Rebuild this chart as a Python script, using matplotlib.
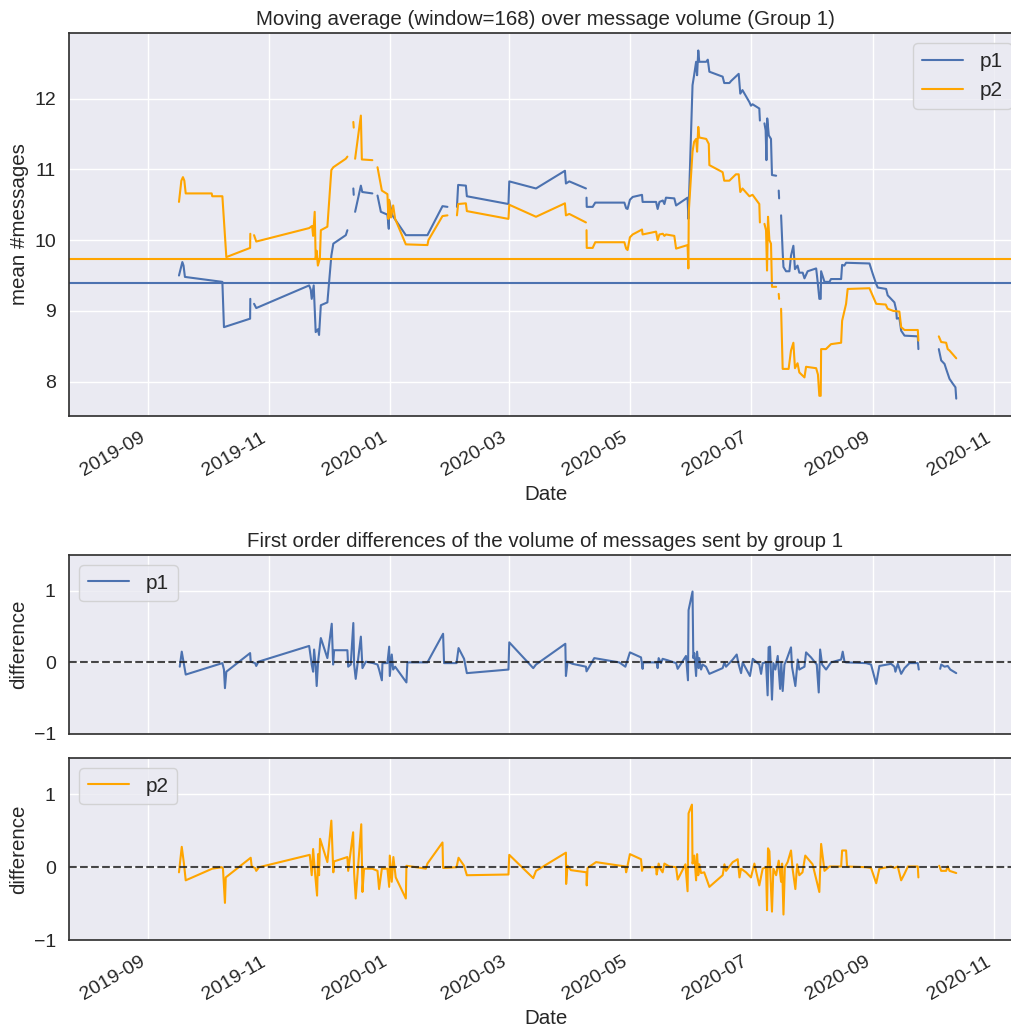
import numpy as np
import pandas as pd
import matplotlib
matplotlib.use("Agg")
import matplotlib.pyplot as plt
import matplotlib.dates as mdates
import seaborn as sns

nan = np.nan
START = pd.Timestamp("2019-09-01")

# moving average (window=168), days since 2019-09-01 / mean #messages
p1_days = [15.5, 17.2, 17.8, 18.5, 32.0, 37.4, 38.2, 51.4, 51.5, 52.5, 53.4, 54.5,
           81.2, 82.0, 82.5, 83.5, 84.5, 85.6, 86.2, 87.1, 90.4, 92.4, 93.4, 99.7,
           100.5, 102.0, 103.5, 103.7, 104.0, 104.4, 107.3, 108.0, 113.1, 114.5,
           115.7, 117.4, 120.7, 121.4, 121.6, 123.2, 130.0, 140.9, 148.5, 151.0,
           153.0, 155.8, 156.4, 160.3, 160.8, 181.8, 182.2, 195.7, 210.3, 210.8,
           212.5, 220.9, 221.0, 221.2, 221.3, 224.3, 225.6, 240.3, 241.2, 241.9,
           243.1, 244.5, 249.2, 249.5, 256.3, 257.1, 258.0, 259.7, 260.5, 261.3,
           265.5, 266.4, 272.2, 272.6, 274.7, 275.5, 276.5, 277.0, 277.6, 278.1,
           281.6, 282.4, 283.2, 289.9, 290.7, 293.3, 294.2, 298.0, 298.8, 299.9,
           303.4, 304.2, 305.0, 308.4, 308.7, 309.8, 311.0, 311.6, 312.0, 312.4,
           313.2, 314.3, 314.8, 316.9, 317.6, 318.2, 318.4, 318.9, 319.4, 320.2,
           320.6, 321.9, 323.6, 324.4, 325.6, 326.4, 327.7, 328.6, 330.3, 331.2,
           332.8, 337.1, 337.9, 338.7, 339.4, 339.6, 341.3, 343.8, 344.6, 349.7,
           350.2, 351.3, 352.2, 364.0, 365.7, 367.4, 368.2, 372.4, 373.2, 374.9,
           376.6, 377.5, 377.8, 379.1, 380.0, 381.7, 388.4, 388.7, 394.0, 399.0,
           400.2, 401.9, 402.7, 404.4, 406.1, 407.4, 407.8]
p1_ma = [9.50, 9.69, 9.64, 9.48, 9.43, 9.41, 8.77, 8.89, 9.17, nan, 9.10, 9.04,
         9.36, 9.30, 9.17, 9.36, 8.70, 8.74, 8.66, 9.08, 9.12, 9.78, 9.95, 10.07,
         10.14, nan, 10.73, 10.64, nan, 10.40, 10.77, 10.68, 10.66, nan,
         10.63, 10.40, 10.36, 10.16, 10.56, 10.35, 10.07, 10.07, 10.48, 10.47,
         nan, 10.47, 10.78, 10.77, 10.62, 10.51, 10.83, 10.73, 10.98, 10.80,
         10.83, 10.73, nan, 10.60, 10.47, 10.47, 10.53, 10.53, 10.45, 10.44,
         10.57, 10.61, 10.64, 10.54, 10.54, 10.44, 10.54, 10.56, 10.51, 10.60,
         10.59, 10.49, 10.60, 10.30, 12.19, 12.33, 12.52, 12.33, 12.68, 12.52,
         12.52, 12.55, 12.38, 12.31, 12.22, 12.22, 12.25, 12.35, 12.07, 12.12,
         11.95, 11.90, 11.92, 11.86, 11.69, nan, 11.65, 11.55, 11.13, 11.72,
         11.48, 11.43, 10.92, 10.91, nan, 10.70, 10.59, nan, 10.35, 9.83,
         9.62, 9.56, 9.56, 9.78, 9.92, 9.59, 9.64, 9.54, 9.54, 9.46,
         9.56, 9.60, 9.40, 9.17, 9.17, 9.56, 9.41, 9.41, 9.45, 9.45,
         9.65, 9.64, 9.68, 9.67, 9.52, 9.38, 9.33, 9.31, 9.22, 9.17,
         9.12, 9.01, 8.89, 8.90, 8.72, 8.65, 8.64, 8.46, nan, 8.46,
         8.30, 8.25, 8.18, 8.04, 7.97, 7.92, 7.76]

p2_days = [15.5, 16.7, 17.5, 18.2, 18.9, 32.0, 32.3, 37.4, 39.4, 51.4, 51.5, 52.5,
           53.4, 54.5, 81.2, 82.7, 83.2, 84.0, 84.5, 85.0, 85.6, 86.6, 87.1, 90.4,
           92.4, 93.4, 99.7, 100.5, 102.0, 103.5, 103.7, 104.0, 104.4, 107.3, 107.8,
           113.1, 114.5, 115.7, 117.9, 120.7, 121.2, 121.6, 122.5, 123.6, 124.6,
           130.0, 140.9, 141.4, 148.5, 151.0, 153.0, 155.8, 156.4, 160.3, 160.8,
           181.8, 182.2, 195.7, 210.3, 210.8, 212.5, 220.9, 221.0, 221.2, 221.3,
           224.3, 225.6, 240.3, 241.2, 241.9, 243.1, 244.5, 249.2, 249.5, 256.3,
           257.1, 258.0, 259.7, 260.5, 261.3, 265.5, 266.4, 272.2, 272.6, 272.8,
           274.7, 275.5, 276.5, 277.0, 277.6, 278.1, 281.6, 282.9, 283.2, 289.9,
           290.7, 293.3, 296.6, 298.0, 298.8, 299.9, 303.4, 305.0, 308.4, 308.7,
           309.8, 311.0, 311.8, 312.3, 312.8, 313.5, 314.3, 314.8, 316.9, 317.6,
           318.2, 318.4, 318.9, 319.4, 320.2, 323.2, 324.4, 325.6, 326.4, 327.7,
           328.6, 331.2, 332.0, 337.1, 338.0, 338.7, 339.4, 339.6, 342.0, 344.6,
           349.7, 350.2, 352.2, 353.0, 364.0, 367.4, 372.2, 373.2, 376.0, 379.1,
           380.0, 381.7, 388.4, 388.7, 394.0, 399.0, 400.2, 402.7, 403.5, 404.4,
           407.8]
p2_ma = [10.54, 10.84, 10.89, 10.84, 10.66, 10.66, 10.62, 10.62, 9.76, 9.89, 10.09, nan,
         10.07, 9.98, 10.17, 10.20, 10.06, 10.40, 9.74, 9.85, 9.64, 9.74, 10.14, 10.19,
         10.99, 11.03, 11.15, 11.18, nan, 11.67, 11.59, nan, 11.15, 11.76, 11.14,
         11.13, nan, 11.03, 10.70, 10.65, 10.30, 10.57, 10.32, 10.49, 10.30,
         9.94, 9.93, 10.00, 10.34, 10.35, nan, 10.35, 10.51, 10.52, 10.41,
         10.30, 10.50, 10.33, 10.52, 10.35, 10.37, 10.25, nan, 10.14, 9.89,
         9.89, 9.97, 9.97, 9.88, 9.86, 10.04, 10.08, 10.15, 10.08, 10.12,
         10.00, 10.08, 10.09, 10.06, 10.08, 10.06, 9.88, 9.93, 9.60, 10.40,
         11.25, 11.39, 11.43, 11.25, 11.60, 11.45, 11.43, 11.36, 11.06, 10.96,
         10.84, 10.84, 10.93, 10.93, 10.68, 10.73, 10.62, 10.64, 10.51, 10.25,
         nan, 10.23, 10.14, 9.57, 10.33, 10.00, 9.95, 9.34, 9.34, nan,
         9.24, 9.17, nan, 9.03, 8.18, 8.18, 8.44, 8.55, 8.19, 8.26,
         8.13, 8.06, 8.21, 8.19, 8.10, 7.80, 7.80, 8.46, 8.46, 8.53,
         8.55, 8.86, 9.10, 9.31, 9.32, 9.10, 9.09, 9.03, 9.00, 8.99,
         8.77, 8.73, 8.73, 8.58, nan, 8.64, 8.56, 8.55, 8.46, 8.44,
         8.33]

p1_mean = 9.40
p2_mean = 9.73

# first order differences
d1_days = [15.9, 16.9, 18.0, 18.9, 37.4, 38.2, 38.7, 39.4, 51.4, 51.7, 53.9, 54.5,
           55.6, 81.2, 82.5, 83.2, 83.7, 84.5, 85.0, 85.7, 87.1, 90.4, 92.6, 93.3,
           93.8, 100.5, 100.9, 102.2, 103.5, 103.9, 104.7, 107.3, 108.1, 109.8,
           113.5, 115.7, 116.5, 117.9, 118.2, 120.7, 121.6, 121.9, 122.9, 123.6,
           124.6, 130.3, 130.8, 140.9, 148.8, 149.3, 155.6, 156.6, 159.4, 160.8,
           181.8, 182.2, 194.3, 195.7, 210.5, 210.8, 211.6, 214.1, 220.9, 221.2,
           222.6, 225.1, 237.7, 240.8, 243.1, 248.7, 249.5, 249.8, 256.6, 257.1,
           257.6, 258.8, 259.6, 262.1, 266.4, 267.2, 271.4, 272.4, 272.7, 274.7,
           275.1, 275.6, 276.5, 277.0, 277.8, 278.1, 279.0, 279.8, 281.5, 283.2,
           289.9, 290.8, 291.6, 295.0, 297.0, 298.0, 299.2, 300.0, 303.7, 305.1,
           307.6, 308.4, 309.3, 310.1, 311.8, 312.6, 313.1, 313.8, 314.8, 315.5,
           316.5, 317.7, 318.9, 319.5, 320.2, 321.1, 322.2, 324.4, 324.9, 326.6,
           327.8, 328.6, 331.2, 332.0, 334.5, 337.4, 338.4, 339.1, 340.1, 342.1,
           344.6, 349.7, 350.5, 351.4, 352.2, 362.3, 364.8, 367.4, 369.0, 374.9,
           376.6, 377.1, 378.3, 380.0, 381.7, 384.2, 388.4, 388.9, 394.0, 399.7,
           400.2, 401.9, 403.5, 404.8, 407.8]
d1_vals = [-0.06, 0.15, -0.03, -0.17, -0.01, -0.10, -0.36, -0.13, 0.13, 0.01, -0.01, -0.05,
           0.01, 0.23, -0.03, -0.13, 0.18, -0.06, -0.33, 0.01, 0.34, 0.06, 0.54, -0.03,
           0.17, 0.17, -0.06, -0.03, 0.55, -0.03, -0.23, 0.36, -0.08, 0.01,
           -0.01, -0.03, -0.10, -0.25, -0.01, -0.01, 0.22, -0.19, 0.11, -0.10,
           -0.06, -0.28, 0.00, 0.00, 0.40, -0.01, -0.01, 0.20, 0.05, -0.15,
           -0.10, 0.28, -0.08, -0.03, 0.26, -0.19, 0.01, -0.02, -0.06, -0.125,
           -0.06, 0.06, 0.00, -0.06, 0.14, 0.07, -0.09, 0.00, 0.00, -0.08,
           0.06, -0.01, 0.05, 0.03, -0.01, -0.09, 0.09, -0.25, 0.73, 0.99,
           0.06, 0.13, -0.19, 0.15, -0.08, 0.06, -0.10, -0.03, -0.06, -0.16,
           -0.08, 0.00, -0.06, 0.04, 0.11, -0.03, -0.15, 0.00, -0.19, 0.05,
           -0.01, -0.03, -0.16, -0.01, 0.00, -0.46, 0.21, 0.22, -0.52, -0.01,
           -0.10, 0.09, -0.37, 0.00, -0.40, -0.03, 0.04, 0.21, -0.06, -0.33,
           0.04, -0.10, -0.06, 0.14, 0.07, -0.03, -0.42, 0.18, -0.03, -0.10,
           0.00, 0.04, 0.15, 0.01, 0.00, -0.01, -0.03, -0.30, -0.05, -0.02,
           -0.06, -0.13, -0.02, -0.16, -0.08, -0.01, -0.01, -0.10, nan, -0.09,
           -0.03, -0.06, -0.05, -0.10, -0.15]

d2_days = [15.5, 16.9, 18.0, 18.9, 32.3, 37.1, 37.7, 38.7, 39.1, 51.7, 52.2, 53.9,
           54.5, 55.9, 81.5, 82.5, 83.2, 84.2, 85.2, 85.7, 86.2, 86.7, 90.4, 92.4,
           93.4, 93.8, 100.5, 100.9, 103.4, 103.9, 104.7, 107.5, 108.1, 108.9,
           113.1, 115.7, 116.5, 117.9, 120.7, 121.6, 121.9, 122.9, 123.7, 124.9,
           130.0, 130.3, 140.1, 140.9, 148.5, 148.8, 155.6, 156.6, 159.4, 160.8,
           181.8, 182.2, 194.3, 195.7, 210.8, 210.9, 211.6, 213.3, 221.2, 221.3,
           221.7, 226.0, 240.8, 241.2, 243.1, 248.7, 249.2, 249.8, 256.3, 256.6,
           257.6, 258.4, 259.6, 260.5, 263.0, 266.4, 267.2, 271.1, 272.2, 272.7,
           274.4, 274.7, 275.6, 276.5, 277.0, 277.6, 278.1, 279.0, 280.6, 283.2,
           289.9, 290.8, 291.6, 295.0, 297.5, 298.4, 299.2, 301.7, 304.2, 305.9,
           308.4, 310.1, 311.8, 312.3, 312.8, 313.5, 314.8, 315.5, 316.9, 318.2,
           319.4, 319.9, 320.6, 321.3, 322.7, 324.4, 325.2, 326.6, 327.5, 328.6,
           330.2, 331.6, 335.3, 338.7, 339.6, 341.3, 343.8, 349.7, 350.2, 352.2,
           352.7, 362.3, 364.8, 367.4, 369.0, 374.9, 376.6, 378.3, 380.0, 381.7,
           383.4, 388.4, 388.7, 394.0, 399.2, 400.2, 402.7, 403.5, 404.4, 407.8]
d2_vals = [-0.07, 0.28, 0.05, -0.18, -0.02, 0.00, -0.02, -0.49, -0.14, 0.13, 0.01, -0.01,
           -0.05, 0.00, 0.17, -0.11, 0.25, -0.09, -0.39, 0.18, -0.11, 0.39, 0.07, 0.64,
           -0.07, 0.08, 0.14, -0.05, 0.48, -0.08, -0.43, 0.59, -0.34, -0.02,
           -0.02, -0.05, -0.30, -0.02, -0.02, -0.27, 0.16, -0.20, 0.14, -0.14,
           -0.43, 0.02, -0.02, 0.05, 0.34, -0.01, 0.00, 0.13, 0.02, -0.11,
           -0.10, 0.17, -0.15, -0.05, 0.20, -0.23, 0.02, -0.04, -0.07, -0.25,
           -0.01, 0.07, 0.01, -0.07, 0.18, 0.11, -0.05, 0.00, 0.00, -0.10,
           0.05, -0.02, -0.07, 0.05, 0.01, 0.00, -0.17, 0.04, -0.33, 0.74,
           0.86, 0.05, 0.16, -0.18, 0.18, -0.11, 0.04, -0.08, -0.07, -0.27,
           -0.11, 0.04, -0.05, 0.07, 0.11, -0.14, -0.02, -0.07, -0.14, 0.05,
           -0.25, -0.02, 0.00, -0.59, 0.26, 0.22, -0.61, -0.02, -0.11, 0.09,
           -0.20, 0.05, -0.65, 0.00, 0.07, 0.23, -0.02, -0.30, 0.04, -0.11,
           -0.07, 0.16, 0.04, -0.34, 0.32, -0.05, 0.01, 0.01, 0.23, 0.23,
           0.01, 0.00, -0.01, -0.22, -0.02, 0.01, -0.01, 0.01, -0.18, -0.09,
           0.01, 0.01, -0.14, nan, 0.02, -0.05, -0.05, 0.01, -0.05, -0.08]


def to_dates(days):
    return START + pd.to_timedelta(np.array(days), unit="D")


sns.set_theme(style="darkgrid")
plt.rcParams["font.family"] = ["Liberation Sans", "DejaVu Sans"]
plt.rcParams["axes.edgecolor"] = "0.2"
plt.rcParams["axes.linewidth"] = 1.25

BLUE = "#4c72b0"
ORANGE = "orange"
xlim = (pd.Timestamp("2019-07-23"), pd.Timestamp("2020-11-15"))

fig = plt.figure(figsize=(10.12, 10.27), dpi=100)
ax1 = fig.add_axes([0.0682, 0.5949, 0.9417, 0.3729])
ax2 = fig.add_axes([0.0682, 0.2853, 0.9417, 0.1743])
ax3 = fig.add_axes([0.0682, 0.0847, 0.9417, 0.1772], sharex=ax2)

ax1.plot(to_dates(p1_days), p1_ma, color=BLUE, lw=1.5, label="p1")
ax1.plot(to_dates(p2_days), p2_ma, color=ORANGE, lw=1.5, label="p2")
ax1.axhline(p1_mean, color=BLUE, lw=1.5)
ax1.axhline(p2_mean, color=ORANGE, lw=1.5)
ax1.set_title("Moving average (window=168) over message volume (Group 1)", fontsize=14.8)
ax1.set_ylabel("mean #messages", fontsize=14.8)
ax1.set_xlabel("Date", fontsize=14.8)
ax1.legend(loc="upper right", fontsize=15)

ax2.plot(to_dates(d1_days), d1_vals, color=BLUE, lw=1.5, label="p1")
ax2.axhline(0, color="k", ls="--", lw=1.5, alpha=0.8)
ax2.set_title("First order differences of the volume of messages sent by group 1", fontsize=14.8)
ax2.set_ylabel("difference", fontsize=14.8)
ax2.legend(loc="upper left", fontsize=15)
ax2.tick_params(labelbottom=False)

ax3.plot(to_dates(d2_days), d2_vals, color=ORANGE, lw=1.5, label="p2")
ax3.axhline(0, color="k", ls="--", lw=1.5, alpha=0.8)
ax3.set_ylabel("difference", fontsize=14.8)
ax3.set_xlabel("Date", fontsize=14.8)
ax3.legend(loc="upper left", fontsize=15)

for ax in (ax2, ax3):
    ax.set_ylim(-1, 1.5)
    ax.set_yticks([-1, 0, 1])

for ax in (ax1, ax2, ax3):
    ax.set_xlim(*xlim)
    ax.xaxis.set_major_locator(mdates.MonthLocator(bymonth=[1, 3, 5, 7, 9, 11]))
    ax.xaxis.set_major_formatter(mdates.DateFormatter("%Y-%m"))
    ax.tick_params(labelsize=14)
    for lab in ax.get_xticklabels():
        lab.set_rotation(30)
        lab.set_ha("right")

fig.savefig("out.png", dpi=100)
